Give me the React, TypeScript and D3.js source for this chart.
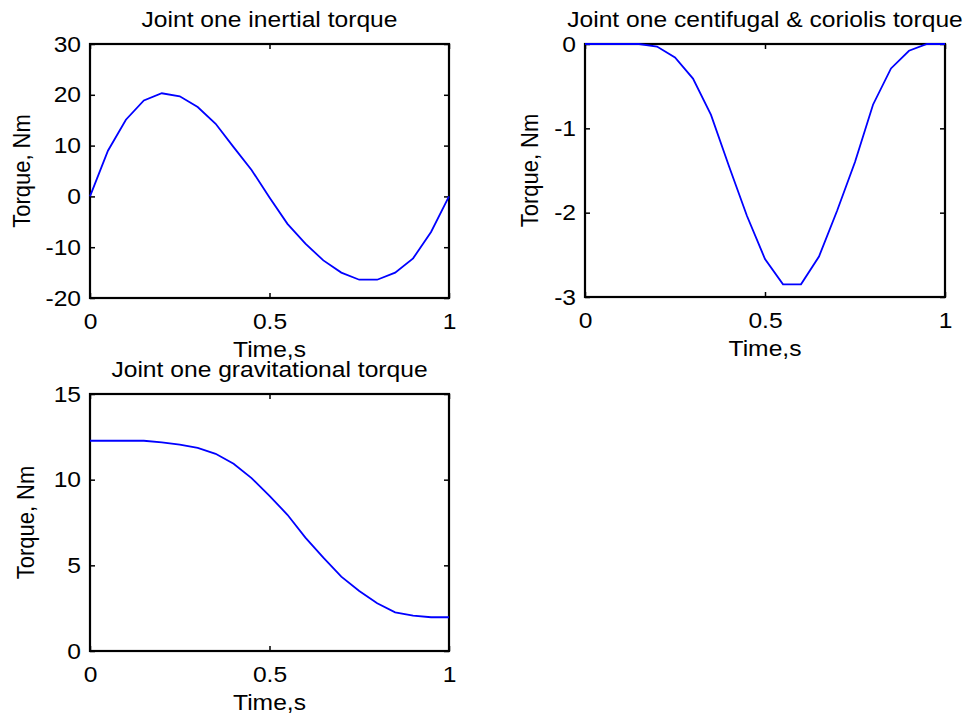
import React, { useEffect, useRef } from "react";
import * as d3 from "d3";

// time samples, s
const time = [0, 0.05, 0.1, 0.15, 0.2, 0.25, 0.3, 0.35, 0.4, 0.45, 0.5, 0.55, 0.6, 0.65, 0.7, 0.75, 0.8, 0.85, 0.9, 0.95, 1];

// torques, Nm
const inertialTorque = [0, 9.0, 15.1, 18.9, 20.3, 19.7, 17.6, 14.3, 9.7, 5.2, -0.2, -5.4, -9.3, -12.6, -15.0, -16.4, -16.4, -15.0, -12.2, -7.0, 0];
const centrifugalTorque = [0, 0, 0, 0, -0.03, -0.16, -0.41, -0.84, -1.45, -2.04, -2.55, -2.85, -2.85, -2.52, -1.98, -1.40, -0.72, -0.29, -0.08, 0, 0];
const gravitationalTorque = [12.27, 12.27, 12.27, 12.27, 12.18, 12.04, 11.85, 11.51, 10.93, 10.09, 9.06, 7.95, 6.62, 5.45, 4.34, 3.5, 2.79, 2.26, 2.06, 1.97, 1.97];

const timeTicks = [0, 0.5, 1];
const inertialTicks = [-20, -10, 0, 10, 20, 30];
const centrifugalTicks = [-3, -2, -1, 0];
const gravitationalTicks = [0, 5, 10, 15];

const FONT = "'Liberation Sans', Arial, sans-serif";
const FONT_SIZE = 22;
const STRETCH = "scale(1.12,1)";

type Panel = {
  title: string;
  values: number[];
  yTicks: number[];
  left: number;
  right: number;
  top: number;
  bottom: number;
  yLabelX: number;
};

function drawPanel(svg: d3.Selection<SVGSVGElement, unknown, null, undefined>, p: Panel) {
  const x = d3.scaleLinear().domain([0, 1]).range([p.left, p.right]);
  const y = d3
    .scaleLinear()
    .domain([p.yTicks[0], p.yTicks[p.yTicks.length - 1]])
    .range([p.bottom, p.top]);

  const g = svg.append("g");

  const styleAxis = (a: d3.Selection<SVGGElement, unknown, null, undefined>) => {
    a.select(".domain").remove();
    a.attr("font-size", FONT_SIZE).attr("font-family", FONT);
    a.selectAll("line").attr("stroke-width", 1.5);
    a.selectAll("text").attr("transform", STRETCH);
  };

  g.append("g")
    .attr("transform", `translate(${p.left},0)`)
    .call(d3.axisLeft(y).tickValues(p.yTicks).tickSize(-5).tickPadding(8).tickFormat(d => String(d)))
    .call(styleAxis);
  g.append("g")
    .attr("transform", `translate(${p.right},0)`)
    .call(d3.axisRight(y).tickValues(p.yTicks).tickSize(-5).tickFormat(() => ""))
    .call(styleAxis);
  g.append("g")
    .attr("transform", `translate(0,${p.bottom})`)
    .call(d3.axisBottom(x).tickValues(timeTicks).tickSize(-5).tickPadding(15).tickFormat(d => String(d)))
    .call(styleAxis);
  g.append("g")
    .attr("transform", `translate(0,${p.top})`)
    .call(d3.axisTop(x).tickValues(timeTicks).tickSize(-5).tickFormat(() => ""))
    .call(styleAxis);

  g.append("rect")
    .attr("x", p.left)
    .attr("y", p.top)
    .attr("width", p.right - p.left)
    .attr("height", p.bottom - p.top)
    .attr("fill", "none")
    .attr("stroke", "#000")
    .attr("stroke-width", 2.2);

  const line = d3
    .line<number>()
    .x((d, i) => x(time[i]))
    .y(d => y(d));

  g.append("path")
    .datum(p.values)
    .attr("d", line)
    .attr("fill", "none")
    .attr("stroke", "#0000ff")
    .attr("stroke-width", 1.8);

  const cx = (p.left + p.right) / 2;

  g.append("text")
    .attr("transform", `translate(${cx},${p.top - 17}) ${STRETCH}`)
    .attr("text-anchor", "middle")
    .attr("font-family", FONT)
    .attr("font-size", FONT_SIZE)
    .text(p.title);

  g.append("text")
    .attr("transform", `translate(${cx},${p.bottom + 59}) ${STRETCH}`)
    .attr("text-anchor", "middle")
    .attr("font-family", FONT)
    .attr("font-size", FONT_SIZE)
    .text("Time,s");

  g.append("text")
    .attr("transform", `translate(${p.yLabelX},${(p.top + p.bottom) / 2}) ${STRETCH} rotate(-90)`)
    .attr("text-anchor", "middle")
    .attr("font-family", FONT)
    .attr("font-size", FONT_SIZE)
    .text("Torque, Nm");
}

export default function App() {
  const ref = useRef<SVGSVGElement>(null);

  useEffect(() => {
    const svg = d3.select(ref.current!);
    svg.selectAll("*").remove();

    drawPanel(svg, {
      title: "Joint one inertial torque",
      values: inertialTorque,
      yTicks: inertialTicks,
      left: 90, right: 449, top: 44, bottom: 298,
      yLabelX: 30
    });
    drawPanel(svg, {
      title: "Joint one centifugal & coriolis torque",
      values: centrifugalTorque,
      yTicks: centrifugalTicks,
      left: 585, right: 945, top: 44, bottom: 297,
      yLabelX: 538
    });
    drawPanel(svg, {
      title: "Joint one gravitational torque",
      values: gravitationalTorque,
      yTicks: gravitationalTicks,
      left: 90, right: 449, top: 394, bottom: 651,
      yLabelX: 34
    });
  }, []);

  return (
    <svg
      ref={ref}
      width={976}
      height={719}
      style={{ position: "absolute", left: 0, top: 0, background: "#fff" }}
    />
  );
}
